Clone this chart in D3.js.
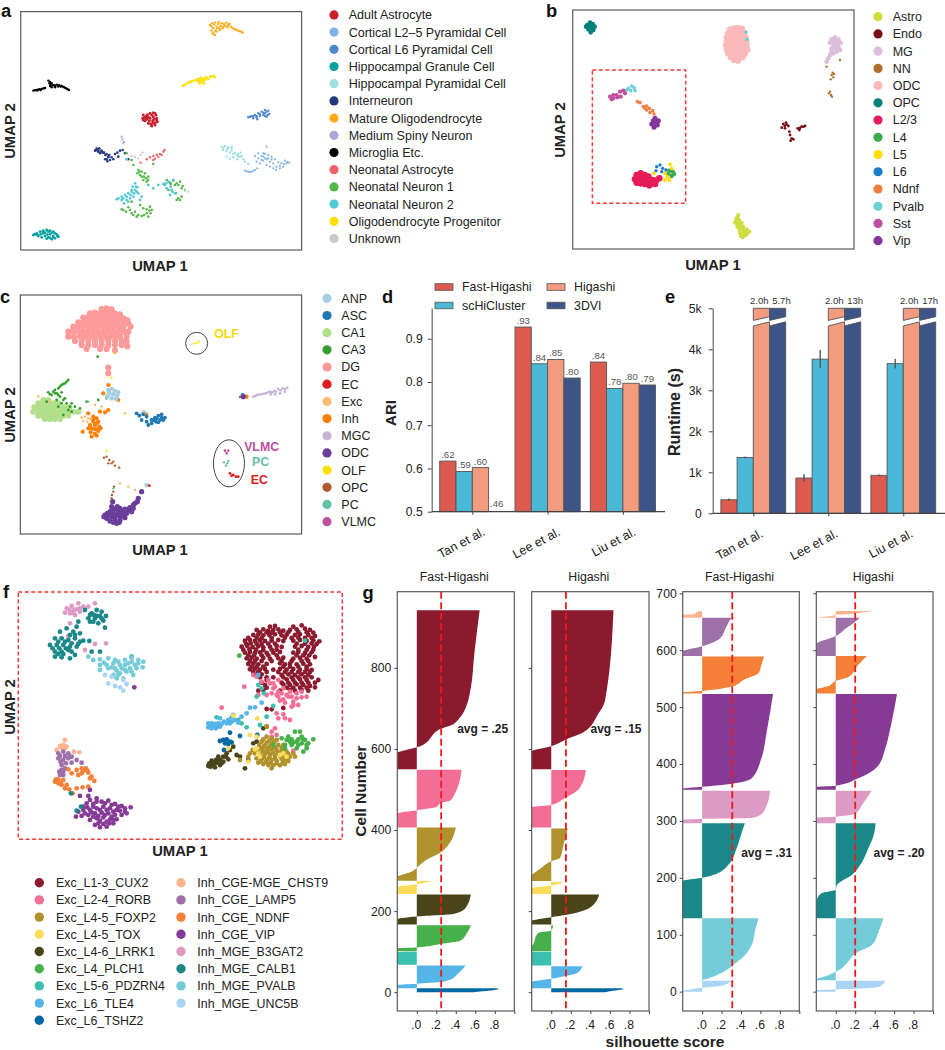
<!DOCTYPE html>
<html><head><meta charset="utf-8">
<script src="https://cdn.jsdelivr.net/npm/d3@7"></script>
<style>html,body{margin:0;padding:0;background:#fff}svg{display:block}text{font-family:"Liberation Sans",Arial,sans-serif;fill:#222}</style>
</head><body><svg id="c" width="945" height="1050"></svg>
<script>
// ---------- panel a: UMAP values (flat x,y lists)
const aAdultAstro=[430,345,440,348,450,340,460,338,468,345,470,355,472,365,465,375,455,378,445,370,435,362,428,355,450,355,458,362,448,362,438,355,460,350,465,368,434,352,442,344,455,345,465,340,462,358,470,360,452,372,458,370,440,358,445,352,430,360];
const aL25=[735,512,745,515,755,515,765,510,772,505,760,512,780,490,790,482,800,478,810,485,820,490,830,500,840,505,850,500,860,490,868,488,855,482,845,490,835,487,825,478,815,470,805,465,795,462,785,468,775,475,765,468,775,460,790,460,800,440,800,495,810,500,820,505,770,485,795,475,785,480,828,510,740,514,750,516,852,492,862,486,840,497,790,470,805,475,815,478];
const aL6=[745,352,755,349,765,345,775,340,785,335,795,330,805,332,808,342,800,350,790,345,780,348,770,352,760,355,772,358,795,340,750,350,760,348,770,348,780,343,790,338,800,335,803,345,795,348];
const aGranule=[100,705,110,700,120,695,130,692,140,690,150,692,160,695,170,703,175,710,165,715,155,718,145,712,135,708,125,712,115,708,130,700,150,703,160,708,105,703,112,705,122,703,128,695,135,698,145,695,155,698,165,700,172,708,150,714,140,716,160,712,142,704];
const aHipPyr=[665,440,675,438,685,442,695,445,668,450,680,452,690,458,700,462,710,465,720,470,730,478,722,458,715,462,680,470,690,476,700,472,712,478,725,468,735,485,745,492,695,440,670,445,683,447,695,452,705,458,715,470];
const aInter=[285,452,290,446,298,445,305,452,312,458,320,462,328,465,335,472,330,480,322,484,315,478,300,460,325,472,345,462,352,458,360,452,368,450,375,460,385,478,340,478,355,470,294,455,288,450,295,450,302,455,308,458,316,465,324,470,320,478];
const aMature=[630,75,636,70,645,68,655,72,662,78,650,80,640,85,634,92,640,98,650,95,660,90,668,85,672,72,680,68,688,72,692,80,682,82,700,86,710,90,720,94,728,98,645,105,638,102,665,70,675,78,658,84,643,74,652,86,646,92,656,66,684,75,695,82,705,88,715,92,725,96,670,80,635,80];
const aMSN=[365,410,368,418,372,426,370,430];
const aMicro=[100,272,108,270,118,268,128,266,135,264,145,242,150,246,155,250,150,258,155,262,162,256,170,254,178,256,185,258,192,262,200,266,207,270,165,262,175,260,112,272,122,270,104,271,114,269,124,267,132,265,148,250,158,256,166,258,174,258,182,260,188,260,196,264,203,268,152,254];
const aNeoAstro=[440,478,450,472,460,468,470,464,480,462,490,455,494,450,465,476,475,470,485,465,422,488,460,480];
const aNN1=[415,510,425,515,435,520,445,530,440,545,430,540,420,525,412,520,395,480,400,495,380,460,460,492,500,540,510,548,525,555,540,545,548,558,555,570,535,595,530,600,545,590,520,542,505,570,528,580,370,630,385,622,395,640,410,650,425,648,440,640,455,630,450,620,365,628,405,635,445,650,430,625,420,615,395,605,418,515,425,530,432,530,438,535,444,540,378,635,390,630,400,645,415,645,432,645,448,632,440,628,452,640,512,552,530,550,535,555,545,565,540,600];
const aNN2=[350,598,365,590,375,585,385,580,395,575,405,570,412,562,405,550,415,580,400,590,390,595,380,600,372,610,398,560,420,600,425,590,475,555,490,552,505,545,520,540,500,565,515,570,525,580,510,585,445,555,460,565,380,478,355,595,370,595,380,590,392,585,402,580,408,560,410,575,395,570,385,605,365,600,495,555,512,560,518,575,498,550];
const aOligoP=[548,258,555,254,562,250,570,246,578,243,590,240,596,236,602,234,610,236,615,240,600,242,605,248,612,250,598,250,620,232,630,230,640,228,645,232,625,238,552,256,566,248,574,245,584,241,606,240,594,243,608,244,616,234,635,229];
const aUnknown=[395,468,405,470,415,475,422,465,428,458,565,575,555,572];
const aColors=["#c9202c","#7fb2e5","#4f86cc","#00a0a0","#a0dfe0","#26397f","#ffab19","#a9a9d6","#000000","#f0626a","#55b949","#55c8d8","#ffdf00","#c9c9c9"];
const aNames=["Adult Astrocyte","Cortical L2–5 Pyramidal Cell","Cortical L6 Pyramidal Cell","Hippocampal Granule Cell","Hippocampal Pyramidal Cell","Interneuron","Mature Oligodendrocyte","Medium Spiny Neuron","Microglia Etc.","Neonatal Astrocyte","Neonatal Neuron 1","Neonatal Neuron 2","Oligodendrocyte Progenitor","Unknown"];

// ---------- panel b
const bAstro=[625,645,620,655,615,668,628,660,632,675,622,680,640,680,650,688,658,695,648,705,638,712,630,700,640,695,628,690,623,650,618,662,625,670,635,668,630,682,638,688,645,695,652,700,642,705,632,708,622,672,635,678];
const bEndo=[760,372,768,368,775,378,765,385,755,383,803,385,815,380,825,378,808,390,780,405,785,415,782,422,790,418,778,395,764,378,770,374,810,384,820,380];
const bMG=[905,118,915,112,925,118,932,128,925,138,912,135,900,128,920,128,930,150,920,155,910,160,900,165,895,175,890,185,905,155,910,120,918,122,926,126,908,128,915,145,905,145,925,145];
const bNN=[890,200,930,180,905,225,910,232,902,238,912,222,908,218,900,275,903,285,906,290,897,280];
const bODC=[600,88,612,85,624,84,636,86,594,100,606,98,618,97,630,98,642,100,590,112,602,110,614,112,626,110,638,112,648,114,590,124,602,122,614,124,626,122,638,124,650,126,588,136,600,134,612,136,624,134,636,136,650,138,590,148,602,146,614,148,626,146,638,148,652,150,594,160,606,158,618,160,630,158,644,162,602,172,614,172,626,170,638,172,612,180,624,182];
const bOPC=[172,75,180,68,188,72,194,80,190,90,182,97,175,88,168,80,182,80,187,84,176,80];
const bL23=[320,525,332,520,344,525,355,530,367,540,378,542,315,538,328,535,340,538,352,540,364,548,375,552,320,548,332,550,345,552,358,556,388,535];
const bL4=[418,512,428,515,432,522,425,528,415,522];
const bL5=[420,493,425,505,405,520,412,530,405,540,418,540,372,520];
const bL6=[380,500,390,495,398,505,408,510,378,512,395,515];
const bNdnf=[340,320,350,318,358,325,368,332,372,342,360,338,350,330,345,325,322,305,330,308];
const bPvalb=[295,265,305,258,312,263,315,272,302,272,290,270,648,96,650,118];
const bSst=[240,290,250,285,245,298,260,285,270,275,280,272,285,280,272,290,262,292,250,295];
const bVip=[375,355,385,362,382,375,372,382,365,372,370,362,378,368];
const bColors=["#cfdc3c","#7a0c17","#dcbedc","#b06e2a","#fbb9b9","#05807c","#e51e58","#3cab4a","#ffde00","#1a7cc8","#f47c3c","#6dcfd6","#c0509f","#84359a"];
const bNames=["Astro","Endo","MG","NN","ODC","OPC","L2/3","L4","L5","L6","Ndnf","Pvalb","Sst","Vip"];

// ---------- panel c
const cANP=[325,315,335,312,345,318,355,322,328,325,340,328,352,332,322,335,335,340,348,342,432,382,440,600];
const cASC=[425,405,440,410,455,405,465,398,475,392,485,388,495,398,480,405,468,410,455,415,440,395,430,388,445,420,418,392,410,385,470,400,485,398,728,330,460,405,475,412,490,405];
const cCA1=[130,345,145,345,115,355,130,355,145,355,160,355,175,355,103,367,118,367,133,367,148,367,163,367,178,367,193,367,208,367,100,380,115,380,130,380,145,380,160,380,175,380,190,380,205,380,220,380,235,380,115,392,130,392,145,392,160,392,175,392,190,392,205,392,135,402,150,402,165,402,180,402];
const cCA3=[205,285,195,295,185,300,175,310,160,320,145,322,170,325,185,322,155,330,180,335,195,340,170,345,200,355,215,355,225,365,185,355,205,375,190,390,240,370,215,380,175,365,140,350,165,315,150,328,320,340,293,215,295,345,200,290,190,297,180,305,165,325,175,330,190,345,210,365,260,350];
const cDG=[305,72,320,70,335,73,270,85,285,83,300,85,315,84,330,85,345,86,360,88,250,98,265,97,280,98,295,97,310,98,325,98,340,97,355,98,370,100,382,105,235,112,250,112,265,111,280,112,295,112,310,111,325,112,340,112,355,111,370,112,385,115,220,125,235,125,250,124,265,125,280,125,295,124,310,125,325,125,340,124,355,125,370,125,392,125,205,140,220,140,235,139,250,140,265,140,280,139,295,140,310,140,325,139,340,140,355,140,370,140,385,140,205,155,222,155,240,154,255,155,270,155,285,154,300,155,315,155,330,154,345,155,360,155,380,155,225,168,245,168,265,167,285,168,305,168,325,167,345,168,365,168,380,170,245,180,265,180,285,180,305,180,325,180,345,180,365,180,382,184,260,192,300,192,320,192,345,196,325,248,325,265];
const cEC=[690,565,700,570,708,575,695,572,715,575,448,602];
const cExc=[245,398,255,395,265,400,250,408,262,410,272,402,345,340,425,385,115,335,345,205,385,605,330,300,405,615,150,350,360,595,375,385,320,380,305,365,285,360];
const cInh=[280,395,290,400,295,410,280,410,270,420,285,420,298,425,265,430,280,432,295,438,272,442,285,446,275,455,290,452,302,430,248,440,300,380,315,382,325,375,265,385,438,388,325,300,280,405,290,415,275,430,288,432,355,345,310,325,740,335];
const cMGC=[760,335,772,330,785,328,798,325,810,320,822,318,835,312,848,310,862,308,855,320,840,325,825,328,812,328,766,333,778,329,792,326,804,322,816,322,828,320,842,316,855,313];
const cODC=[425,620,415,640,405,655,315,690,330,680,345,672,360,670,375,672,390,668,400,660,412,650,320,700,335,695,350,690,365,685,380,685,395,680,330,708,345,705,360,705,375,698,350,715,338,650,335,665,325,690,340,685,355,680,370,692,385,672,730,335,322,685,338,675,352,665,368,678,345,695,360,695,372,690,388,675,400,670,340,712,358,712,312,695];
const cOLF=[582,176,590,174,597,170,320,498,335,278];
const cOPC=[320,515,328,525,335,535,345,542,325,535,340,530,358,548,312,518,335,640,340,620,342,605,336,630,720,336];
const cPC=[672,532,682,535,678,542,685,528,340,610,265,350];
const cVLMC=[675,497,685,497,680,505];
const cColors=["#a6cee3","#1f78b4","#b2df8a","#33a02c","#fb9a99","#e31a1c","#fdbf6f","#ff7f00","#cab2d6","#6a3d9a","#ffdf00","#b15928","#66c2a5","#c0509f"];
const cNames=["ANP","ASC","CA1","CA3","DG","EC","Exc","Inh","MGC","ODC","OLF","OPC","PC","VLMC"];

// ---------- panel d
const studies=["Tan et al.","Lee et al.","Liu et al."];
const methods=["Fast-Higashi","scHiCluster","Higashi","3DVI"];
const methodColors=["#dc5a50","#4cb8d8","#f39b7f","#3c5488"];
const ariFast=[0.617,0.927,0.846];
const ariScHi=[0.593,0.842,0.785];
const ariHigashi=[0.602,0.852,0.797];
const ari3DVI=[0.46,0.809,0.793];
const ariFastLabels=[".62",".93",".84"];
const ariScHiLabels=[".59",".84",".78"];
const ariHigashiLabels=[".60",".85",".80"];
const ari3DVILabels=[".46",".80",".79"];

// ---------- panel e
const runFast=[330,860,925];
const runFastErr=[30,90,20];
const runScHi=[1360,3760,3650];
const runScHiErr=[25,220,120];
const runHigashiHours=["2.0h","2.0h","2.0h"];
const run3DVIHours=["5.7h","13h","17h"];
const breakLow=[4570,4670];
const breakHigh=[4705,4795];

// ---------- panel f
const fCUX2=[810,140,825,138,880,140,905,136,770,150,790,148,805,152,820,150,835,148,850,152,870,150,890,148,915,146,930,150,760,165,775,163,790,166,808,165,825,163,845,166,860,164,885,165,900,163,925,165,945,168,735,182,750,180,765,183,780,181,795,183,815,182,835,180,850,183,880,182,900,180,920,183,940,181,958,184,725,200,742,198,758,201,775,199,790,202,810,200,830,198,845,201,885,200,905,198,925,201,942,200,735,218,750,216,765,219,780,217,800,219,820,218,840,216,880,218,895,216,915,219,935,217,740,235,755,233,770,236,790,234,810,236,835,235,850,233,880,236,900,234,920,236,945,231,745,252,760,250,775,253,800,252,840,250,855,253,870,251,890,253,910,251,930,253,750,268,765,266,780,269,795,267,820,269,840,267,860,269,880,267,900,269,920,267,935,270,770,285,785,283,845,285,865,283,885,285,905,283,925,285,800,300,860,298,880,300,900,298,920,300,955,300,795,315,850,313,870,315,890,313,910,315,930,318,775,332,790,330,840,332,870,330,885,332,905,330,925,332,945,322,800,387,815,388,850,384,
780,157,800,157,815,158,840,157,865,157,895,156,920,157,940,158,745,174,770,173,785,174,815,174,855,173,875,174,895,173,915,174,935,174,738,191,752,190,770,191,785,192,805,191,825,191,890,191,915,191,935,190,950,192,730,209,748,208,768,209,790,210,815,209,830,209,895,209,920,210,940,209,745,226,762,226,785,226,805,226,830,226,890,226,910,226,928,226,750,243,765,243,785,243,815,243,845,243,875,243,905,243,925,243,755,260,770,260,790,260,850,260,870,260,895,260,920,260,760,276,775,276,800,276,835,276,855,276,875,276,895,276,915,276,930,276,780,292,800,292,820,292,850,292,875,292,895,292,915,292,935,292,785,308,845,308,865,308,885,308,905,308,925,308,945,308,800,323,860,323,880,323,900,323,920,323];
const fRORB=[770,290,785,305,805,300,820,310,835,300,820,325,835,335,850,325,870,335,890,340,905,335,920,350,835,350,850,358,865,350,880,365,895,375,830,345,815,340,760,285,733,320,665,383,830,400,850,403,835,415,855,415,870,420,825,445,815,455,830,465,815,470,880,512,775,345,800,345,845,340,860,345,875,350,890,355,905,352,840,362,855,368,875,380,880,375,825,320,810,310];
const fFOXP2=[800,470,815,475,830,480,785,485,800,488,815,492,835,495,850,495,770,505,785,505,800,506,815,508,830,510,845,512,860,515,880,520,750,520,765,520,780,522,795,522,810,524,825,526,840,528,855,530,870,530,885,530,770,535,785,538,800,540,815,540,830,542,850,543,865,543,775,548,790,552,805,555,820,556,840,556,855,552,815,565,745,530,720,540,800,440,790,478,808,482,822,485,778,495,793,497,808,500,825,502,845,503,758,510,775,514,790,514,805,516,820,518,835,518,850,522,865,522,792,530,808,532,825,534,845,536,860,537,782,544,798,546,812,548,830,550,848,549];
const fTOX=[700,407,772,415,750,465,770,470,685,505,765,508,775,520,850,520,860,530,745,545,770,505,780,530,840,525];
const fLRRK1=[628,550,640,555,650,548,660,540,670,530,680,520,690,510,632,560,645,562,660,555,670,545,685,538,710,525,720,530,700,500,735,565,745,540,760,490,770,485,800,440,790,445,635,542,648,540,665,550,678,530,655,530,640,548,625,558];
const fPLCH1=[845,475,860,480,875,478,890,485,885,455,900,455,905,470,915,480,925,490,940,478,905,490,895,495,875,495,855,495,920,505,910,515,890,505,855,505,718,227,820,495,880,488,895,478,910,478,920,495,870,485,865,470];
const fPDZRN4=[650,412,715,420,725,430,740,442,775,315,785,325,770,350,820,378,800,410,780,435,915,182,792,340,858,515];
const fTLE4=[625,430,635,430,645,432,655,430,625,442,635,445,648,445,660,440,672,425,685,420,695,412,705,420,715,428,690,430,700,405,725,410,740,400,750,383,660,415,765,382,785,368,775,285,630,436,640,438,652,438,665,432,680,430,695,425];
const fTSHZ2=[670,480,680,478,690,485,675,490,685,492,695,487,690,458,660,483,672,510,720,468,772,465];
const fCHST9=[195,480,180,498,190,495,200,500,170,510,222,515,238,517,185,505,195,505];
const fLAMP5=[175,520,190,515,205,520,215,530,230,540,245,548,175,535,190,540,205,535,215,548,185,555,185,570,195,565,180,585,190,585,210,530,180,528,195,528,182,545,198,550,178,575,190,575];
const fNDNF=[165,605,175,598,190,600,200,615,185,615,175,610,208,628,195,625,205,568,215,580,230,570,245,565,258,565,265,578,275,590,235,585,245,580,270,595,283,603,265,620,248,622,230,625,218,640,168,598,182,608,250,572,262,572];
const fVIP=[240,648,265,648,290,655,260,670,280,672,305,665,325,662,345,672,365,678,392,682,235,695,250,690,270,690,290,685,310,680,330,685,350,690,375,695,228,710,245,708,265,705,285,700,305,698,325,700,345,705,365,705,380,700,270,720,290,715,310,712,330,718,350,718,285,735,300,742,320,740,340,730,403,322,270,630,270,660,290,665,315,670,335,675,355,680,375,685,250,680,262,682,280,680,300,690,320,690,340,695,360,692,255,700,275,697,295,708,315,705,335,710,280,710,300,722,320,725,340,720,295,730,310,732,328,730];
const fB3GAT2=[200,85,215,78,235,70,250,80,195,98,210,100,225,105,240,95,230,88,285,70,265,80,210,130,205,168,255,210,285,192,318,190,208,90,222,90,240,85,218,98];
const fCALB1=[265,115,275,100,290,90,305,95,318,108,310,122,295,130,280,125,290,108,270,125,315,143,235,125,230,140,200,145,180,155,220,155,240,160,165,175,185,175,205,180,225,175,240,185,150,195,170,195,190,195,210,200,230,200,165,215,185,215,205,210,225,225,165,230,185,232,210,235,250,182,268,183,300,215,275,215,270,105,395,230,230,692,243,680,213,640,255,90,282,105,300,108,305,115,285,115,210,165,225,165,175,185,195,185,215,190,235,192,158,205,178,205,198,205,215,215,175,222,190,222];
const fPVALB=[265,230,280,240,300,238,325,235,345,240,375,240,395,232,415,240,430,245,300,255,320,255,340,250,360,255,385,250,405,255,428,262,300,270,325,265,345,265,365,265,390,265,340,285,360,280,380,275,400,285,350,295,370,295,355,245,375,255,395,245,415,250,335,262,350,272,375,270,395,275,355,285,410,265,312,248];
const fUNC5B=[315,285,335,290,370,300,325,310,345,318,360,322,370,332,380,312];
const fColors=["#8b1a2f","#f46d95","#b0922c","#fbdc5a","#49441a","#46b04a","#3bbfae","#55b5e8","#0068a5","#fdb48e","#9e70a8","#f68038","#863a96","#dd9ac4","#1a8889","#74ccd8","#aad4f4"];
const fNames=["Exc_L1-3_CUX2","Exc_L2-4_RORB","Exc_L4-5_FOXP2","Exc_L4-5_TOX","Exc_L4-6_LRRK1","Exc_L4_PLCH1","Exc_L5-6_PDZRN4","Exc_L6_TLE4","Exc_L6_TSHZ2","Inh_CGE-MGE_CHST9","Inh_CGE_LAMP5","Inh_CGE_NDNF","Inh_CGE_VIP","Inh_MGE_B3GAT2","Inh_MGE_CALB1","Inh_MGE_PVALB","Inh_MGE_UNC5B"];

// ---------- panel g: silhouette profiles as [cell number, score]
const g1CUX2=[[550,-.3],[591,-.2],[597,-.12],[604,0],[616,.1],[630,.15],[649,.24],[657,.34],[678,.445],[707,.51],[752,.555],[835,.59],[942,.645]];
const g1RORB=[[406,-.3],[441,-.2],[449,0],[457,.2],[467,.245],[472,.34],[488,.385],[549,.46]];
const g1FOXP2=[[275,-.3],[286,-.2],[298,-.05],[307,0],[327,.1],[344,.24],[364,.325],[406,.4]];
const g1TOX=[[242,-.3],[260,-.2],[266,0],[270,.085],[274,.19]];
const g1LRRK1=[[167,-.3],[181,-.2],[187,0],[193,.375],[208,.5],[241,.555]];
const g1PLCH1=[[101,-.3],[109,-.2],[110.5,0],[119,.24],[127,.445],[146,.515],[165,.555]];
const g1PDZRN4=[[68,-.3],[99,-.25],[99.5,0],[100,.02]];
const g1TLE4=[[10,-.3],[18,-.2],[21,0],[25,.24],[30.5,.34],[43,.41],[66,.5]];
const g1TSHZ2=[[0,.58],[4,.75],[8,.84],[10,.82]];
const g2CUX2=[[550,-.3],[595,-.2],[607,0],[624,.157],[641,.33],[686,.48],[719,.55],[942,.637]];
const g2RORB=[[406,-.3],[457,-.2],[462,0],[476,.12],[505,.295],[548,.355]];
const g2FOXP2=[[274,-.3],[290,-.2],[307,-.1],[323,0],[331,.09],[364,.125],[404,.17]];
const g2TOX=[[242,-.3],[257,-.2],[263,0],[272,.125]];
const g2LRRK1=[[167,-.3],[177,-.2],[185,0],[191,.157],[212,.415],[241,.49]];
const g2PLCH1=[[101,-.3],[113,-.2],[146,-.135],[152,0],[165,.02]];
const g2PDZRN4=[[66,-.3],[99,-.25],[99.5,0]];
const g2TLE4=[[10,-.3],[26,-.2],[33,0],[39,.12],[47,.26],[64,.32]];
const g2TSHZ2=[[0,.55],[4,.65],[8,.74],[10,.72]];
const g3CHST9=[[657,-.3],[662,-.2],[663,-.09],[668.5,-.04],[669,0]];
const g3LAMP5=[[590,-.3],[599,-.2],[607,0],[621,.185],[641,.25],[656,.305],[657,.355]];
const g3NDNF=[[524,-.3],[526,-.2],[528.5,0],[536,.305],[549,.44],[559.5,.58],[574,.61],[589,.637]];
const g3VIP=[[355,-.3],[357,-.2],[360,0],[364.5,.27],[375,.51],[410,.61],[457,.665],[523,.73]];
const g3B3GAT2=[[296,-.3],[302,-.2],[303.5,0],[305,.51],[312,.61],[328,.665],[353,.7]];
const g3CALB1=[[129,-.3],[194.5,-.2],[200,0],[206,.13],[223,.27],[252,.355],[281,.41],[296,.44]];
const g3PVALB=[[19,-.04],[20.5,0],[32,.185],[47,.32],[64,.44],[82,.51],[111,.55],[129,.58]];
const g3UNC5B=[[0,-.3],[2,-.2],[7,0],[10.5,.2],[19,.305]];
const g4CHST9=[[657,-.2],[660,-.05],[662,0],[663,.1],[666,.25],[669,.39]];
const g4LAMP5=[[590,-.3],[612,-.2],[625,0],[639,.11],[650,.2],[657,.25]];
const g4NDNF=[[524,-.3],[532,-.2],[536,-.09],[546,0],[553,.13],[574,.23],[590,.32]];
const g4VIP=[[355,-.3],[360,-.2],[362,0],[375,.23],[398,.44],[428,.51],[474,.575],[523,.63]];
const g4B3GAT2=[[296,-.3],[306,-.2],[307.5,0],[313,.2],[328,.27],[353,.37]];
const g4CALB1=[[129,-.3],[161,-.2],[173,-.145],[179,0],[187,.01],[205,.165],[228,.27],[252,.335],[275,.39],[296,.41]];
const g4PVALB=[[20,-.3],[23,-.2],[35,0],[53,.13],[67,.2],[82,.37],[105,.44],[129,.49]];
const g4UNC5B=[[0,-.3],[3,-.2],[4,0],[5,.2],[9,.455],[19,.51]];
const avgScores=[.25,.15,.31,.20];
const avgLabels=["avg = .25","avg = .15","avg = .31","avg = .20"];

// ---------- drawing helpers
const svg=d3.select("#c");
const frameColor="#5a5a5a";
svg.append("defs").append("filter").attr("id","soft").append("feGaussianBlur").attr("stdDeviation",.35);
const xyPairs=a=>d3.range(0,a.length,2).map(i=>[a[i],a[i+1]]);
function label(x,y,t,o={}){
  const s=svg.append("text").attr("x",x).attr("y",y).text(t)
    .attr("font-size",o.size||12.5).attr("text-anchor",o.anchor||"start")
    .attr("font-weight",o.bold?"bold":"normal").style("fill",o.fill||"#222");
  if(o.rot!=null) s.attr("transform",`rotate(${o.rot},${x},${y})`);
  return s;
}
function frame(x0,x1,y0,y1,o={}){
  svg.append("rect").attr("x",x0).attr("y",y0).attr("width",x1-x0).attr("height",y1-y0)
    .attr("fill","none").attr("stroke",o.stroke||frameColor).attr("stroke-width",o.w||1.2)
    .attr("stroke-dasharray",o.dash||null);
}
function scatter(x,y,pts,color,r){
  svg.append("g").attr("filter","url(#soft)").selectAll("circle").data(xyPairs(pts)).join("circle")
    .attr("cx",d=>x(d[0])).attr("cy",d=>y(d[1])).attr("r",r).attr("fill",color);
}
function legend(names,colors,dx,tx,y0,step,r=4.6,size=12.5){
  names.forEach((n,i)=>{
    svg.append("circle").attr("cx",dx).attr("cy",y0+i*step).attr("r",r).attr("fill",colors[i]);
    label(tx,y0+i*step+4.4,n,{size});
  });
}
function panelLetter(x,y,t){label(x,y,t,{size:18.3,bold:true,fill:"#111"});}
function umapLabels(cx,y,lx,cy){
  label(cx,y,"UMAP 1",{size:14.8,bold:true,anchor:"middle"});
  label(lx,cy,"UMAP 2",{size:14.8,bold:true,anchor:"middle",rot:-90});
}

// ---------- panel a
{
  const x=d3.scaleLinear([62,905],[20.7,301.6]), y=d3.scaleLinear([750,35],[250,11.6]);
  frame(20.7,301.6,11.6,250);
  const arr=[aAdultAstro,aL25,aL6,aGranule,aHipPyr,aInter,aMature,aMSN,aMicro,aNeoAstro,aNN1,aNN2,aOligoP,aUnknown];
  const rs=[1.5,1.1,1.2,1.4,1.2,1.3,1.2,1.1,1.2,1.2,1.3,1.4,1.3,1.1];
  arr.forEach((a,i)=>scatter(x,y,a,aColors[i],rs[i]));
  panelLetter(1,16.8,"a"); umapLabels(160,271,15,131);
  legend(aNames,aColors,334,348.7,14.9,17.2);
}
// ---------- panel b
{
  const x=d3.scaleLinear([128,972],[572.7,854]), y=d3.scaleLinear([747,30],[249,10]);
  frame(572.7,854,10,249);
  const arr=[bAstro,bEndo,bMG,bNN,bODC,bOPC,bL23,bL4,bL5,bL6,bNdnf,bPvalb,bSst,bVip];
  const rs=[2,1.4,2.4,1.2,3.1,2.3,3.3,2.2,1.9,1.7,1.8,1.8,2.1,2.5];
  arr.forEach((a,i)=>scatter(x,y,a,bColors[i],rs[i]));
  svg.append("rect").attr("x",x(187)).attr("y",y(210)).attr("width",x(467)-x(187)).attr("height",y(610)-y(210))
    .attr("fill","none").attr("stroke","#f03c3c").attr("stroke-width",1.5).attr("stroke-dasharray","4,2.5");
  panelLetter(546,16.8,"b"); umapLabels(713,270,565,130);
  legend(bNames,bColors,878,892.7,16.7,17.23);
}
// ---------- panel c
{
  const x=d3.scaleLinear([61,905],[20.3,301.6]), y=d3.scaleLinear([747,30],[534,295]);
  frame(20.3,301.6,295,534);
  const arr=[cDG,cCA1,cCA3,cExc,cInh,cANP,cASC,cMGC,cOPC,cODC,cOLF,cPC,cVLMC,cEC];
  const cols=[4,2,3,6,7,0,1,8,11,9,10,12,13,5];
  const rs=[3.1,3,1.4,1.3,2.1,2.3,1.9,1.4,1.2,2.6,1.1,1.2,1.3,1.4];
  arr.forEach((a,i)=>scatter(x,y,a,cColors[cols[i]],rs[i]));
  svg.append("ellipse").attr("cx",x(590)).attr("cy",y(175)).attr("rx",11).attr("ry",11).attr("fill","none").attr("stroke","#444").attr("stroke-width",1);
  svg.append("ellipse").attr("cx",x(687)).attr("cy",y(535)).attr("rx",15.5).attr("ry",23.5).attr("fill","none").attr("stroke","#444").attr("stroke-width",1);
  label(x(680),y(145)+4.5,"OLF",{size:12.3,bold:true,anchor:"middle",fill:"#f5d800"});
  label(x(785),y(483)+4.5,"VLMC",{size:12.3,bold:true,anchor:"middle",fill:"#c0509f"});
  label(x(782),y(530)+4.5,"PC",{size:12.3,bold:true,anchor:"middle",fill:"#66c2a5"});
  label(x(778),y(582)+4.5,"EC",{size:12.3,bold:true,anchor:"middle",fill:"#e31a1c"});
  panelLetter(0,303,"c"); umapLabels(160,555,15,415);
  legend(cNames,cColors,327,341.3,298.3,17.18);
}
// ---------- bar panel axes
function barAxes(x,y,x0,x1,yTicks,fmt,pad,off){
  const gy=svg.append("g").attr("transform",`translate(${x0},0)`)
    .call(d3.axisLeft(y).tickValues(yTicks).tickFormat(fmt).tickSize(4).tickPadding(pad).tickSizeOuter(0));
  gy.select(".domain").attr("stroke","#666").attr("stroke-width",1.2);
  gy.selectAll(".tick line").attr("stroke","#444");
  gy.selectAll("text").attr("font-size",12.2).style("fill","#222");
  const gx=svg.append("g").attr("transform",`translate(0,${y.range()[0]})`)
    .call(d3.axisBottom(x).tickSize(3).tickSizeOuter(0));
  gx.select(".domain").remove();
  gx.append("line").attr("x1",x0).attr("x2",x1).attr("stroke","#444").attr("stroke-width",1.2);
  gx.selectAll(".tick line").attr("stroke","#444");
  gx.selectAll("text").attr("font-size",12.6).style("fill","#222").attr("text-anchor","end")
    .attr("y",0).attr("dy",".35em").attr("transform",`translate(${off},19) rotate(-28)`);
}
// ---------- panel d
{
  const x=d3.scalePoint(studies,[472.3,622.9]), y=d3.scaleLinear([.5,.971],[511.7,308]);
  const inner=d3.scaleBand(methods,[-32.6,32.6]);
  const vals=[ariFast,ariScHi,ariHigashi,ari3DVI], labs=[ariFastLabels,ariScHiLabels,ariHigashiLabels,ari3DVILabels];
  methods.forEach((m,j)=>{
    studies.forEach((s,i)=>{
      const v=vals[j][i], bx=x(s)+inner(m);
      if(v>=.5) svg.append("rect").attr("x",bx).attr("y",y(v)).attr("width",inner.bandwidth()).attr("height",y(.5)-y(v))
        .attr("fill",methodColors[j]).attr("stroke","#555").attr("stroke-width",.9);
      label(bx+inner.bandwidth()/2,(v>=.5?y(v):y(.5)-2)-3,labs[j][i],{size:9.6,anchor:"middle",fill:"#555"});
    });
  });
  barAxes(x,y,431.7,665,[.5,.6,.7,.8,.9],d3.format(".1f"),5,11);
  label(396,413,"ARI",{size:15,bold:true,anchor:"middle",rot:-90});
  panelLetter(382,303,"d");
  const lx=[435,547], ly=[287,305.5];
  methods.forEach((m,j)=>{
    const [c,r]=[[0,0],[0,1],[1,0],[1,1]][j];
    svg.append("rect").attr("x",lx[c]).attr("y",ly[r]-3.3).attr("width",18).attr("height",6.6)
      .attr("fill",methodColors[j]).attr("stroke","#555").attr("stroke-width",.8);
    label(lx[c]+27,ly[r]+4.4,m,{size:12.4});
  });
}
// ---------- panel e
{
  const x=d3.scalePoint(studies,[753.3,903.3]), y=d3.scaleLinear([0,5000],[513.3,308.3]);
  const inner=d3.scaleBand(methods,[-32.4,32.4]);
  const w=inner.bandwidth();
  const solid=[[runFast,runFastErr,0],[runScHi,runScHiErr,1]];
  solid.forEach(([v,e,j])=>studies.forEach((s,i)=>{
    const bx=x(s)+inner(methods[j]);
    svg.append("rect").attr("x",bx).attr("y",y(v[i])).attr("width",w).attr("height",y(0)-y(v[i]))
      .attr("fill",methodColors[j]).attr("stroke","#555").attr("stroke-width",.9);
    svg.append("line").attr("x1",bx+w/2).attr("x2",bx+w/2).attr("y1",y(v[i]-e[i])).attr("y2",y(v[i]+e[i]))
      .attr("stroke","#555").attr("stroke-width",1.4);
  }));
  const line=d3.line().x(d=>d[0]).y(d=>y(d[1]));
  [[2,runHigashiHours],[3,run3DVIHours]].forEach(([j,hrs])=>studies.forEach((s,i)=>{
    const a=x(s)+inner(methods[j]), b=a+w;
    svg.append("path").attr("d",line([[a,0],[a,breakLow[0]],[b,breakLow[1]],[b,0]])+"Z")
      .attr("fill",methodColors[j]).attr("stroke","#555").attr("stroke-width",.9);
    svg.append("path").attr("d",line([[a,breakHigh[0]],[a,5000],[b,5000],[b,breakHigh[1]]])+"Z")
      .attr("fill",methodColors[j]).attr("stroke","#555").attr("stroke-width",.9);
    if(j==2) label(b-1,303.5,hrs[i],{size:9.5,anchor:"end",fill:"#333"});
    else label(a+2.7,303.5,hrs[i],{size:9.5,anchor:"start",fill:"#333"});
  }));
  barAxes(x,y,712.7,945,[0,1000,2000,3000,4000,5000],d=>d?d/1000+"k":"0",7,8);
  label(680,412,"Runtime (s)",{size:16,bold:true,anchor:"middle",rot:-90});
  panelLetter(665,303,"e");
}
// ---------- panel f
{
  const x=d3.scaleLinear([55,1027],[18.3,342.3]), y=d3.scaleLinear([778,36],[839.3,592]);
  frame(18.3,342.3,592,839.3,{stroke:"#f03c3c",w:1.5,dash:"4,2.5"});
  const arr=[fCUX2,fRORB,fFOXP2,fTOX,fLRRK1,fPLCH1,fPDZRN4,fTLE4,fTSHZ2,fCHST9,fLAMP5,fNDNF,fVIP,fB3GAT2,fCALB1,fPVALB,fUNC5B];
  [0,1,6,7,8,4,2,3,5,9,10,11,12,13,14,15,16].forEach(i=>scatter(x,y,arr[i],fColors[i],2.4));
  panelLetter(3,598,"f"); umapLabels(180,856,15,707);
  legend(fNames.slice(0,9),fColors.slice(0,9),39.3,56,882.7,17.2,4.7,12.4);
  legend(fNames.slice(9),fColors.slice(9),181,197.3,882.7,17.2,4.7,12.4);
}
// ---------- panel g
{
  const yTop=591.7,yBot=1011;
  const yA=d3.scaleLinear([-46.4,988],[yBot,yTop]);
  const yB=d3.scaleLinear([-34,702.8],[yBot,yTop]);
  const panels=[
    {x0:397.3,x1:514.3,y:yA,title:"Fast-Higashi",ticks:d3.range(0,801,200),lab:true,avg:0,ax:482.7,ay:733,
     ser:[g1CUX2,g1RORB,g1FOXP2,g1TOX,g1LRRK1,g1PLCH1,g1PDZRN4,g1TLE4,g1TSHZ2],col:[0,1,2,3,4,5,6,7,8]},
    {x0:531.7,x1:649,y:yA,title:"Higashi",ticks:d3.range(0,801,200),lab:false,avg:1,ax:616,ay:733,
     ser:[g2CUX2,g2RORB,g2FOXP2,g2TOX,g2LRRK1,g2PLCH1,g2PDZRN4,g2TLE4,g2TSHZ2],col:[0,1,2,3,4,5,6,7,8]},
    {x0:682.7,x1:799.3,y:yB,title:"Fast-Higashi",ticks:d3.range(0,701,100),lab:true,avg:2,ax:766.7,ay:857,
     ser:[g3CHST9,g3LAMP5,g3NDNF,g3VIP,g3B3GAT2,g3CALB1,g3PVALB,g3UNC5B],col:[9,10,11,12,13,14,15,16]},
    {x0:816.3,x1:933,y:yB,title:"Higashi",ticks:d3.range(0,701,100),lab:false,avg:3,ax:899,ay:857,
     ser:[g4CHST9,g4LAMP5,g4NDNF,g4VIP,g4B3GAT2,g4CALB1,g4PVALB,g4UNC5B],col:[9,10,11,12,13,14,15,16]}
  ];
  panels.forEach((p,k)=>{
    const x=d3.scaleLinear([-.2,1],[p.x0,p.x1]);
    const id="clipG"+k;
    svg.append("clipPath").attr("id",id).append("rect").attr("x",p.x0).attr("y",yTop).attr("width",p.x1-p.x0).attr("height",yBot-yTop);
    const area=d3.area().curve(d3.curveMonotoneY).y(d=>p.y(d[0])).x0(x(0)).x1(d=>x(d[1]));
    const g=svg.append("g").attr("clip-path",`url(#${id})`);
    p.ser.forEach((s,i)=>g.append("path").attr("d",area(s)).attr("fill",fColors[p.col[i]]));
    frame(p.x0,p.x1,yTop,yBot);
    const gx=svg.append("g").attr("transform",`translate(0,${yBot})`)
      .call(d3.axisBottom(x).tickValues([0,.2,.4,.6,.8,1]).tickSize(3).tickSizeOuter(0)
        .tickFormat(d=>d==1?"":d3.format(".1f")(d).replace(/^0/,"")));
    gx.select(".domain").remove();
    gx.selectAll(".tick line").attr("stroke","#444");
    gx.selectAll("text").attr("font-size",12.2).style("fill","#222").attr("dy","1em").attr("dx","-1");
    const gy=svg.append("g").attr("transform",`translate(${p.x0},0)`)
      .call(d3.axisLeft(p.y).tickValues(p.ticks).tickSize(3).tickSizeOuter(0).tickFormat(p.lab?d3.format("d"):""));
    gy.select(".domain").remove();
    gy.selectAll(".tick line").attr("stroke","#444");
    gy.selectAll("text").attr("font-size",12.2).style("fill","#222");
    svg.append("line").attr("x1",x(avgScores[p.avg])).attr("x2",x(avgScores[p.avg])).attr("y1",yTop).attr("y2",yBot)
      .attr("stroke","#f01818").attr("stroke-width",1.8).attr("stroke-dasharray","7,3.5");
    label(p.ax,p.ay,avgLabels[p.avg],{size:12,bold:true,anchor:"middle"});
    label((p.x0+p.x1)/2-1.5,581,p.title,{size:12.3,anchor:"middle"});
  });
  panelLetter(362.5,598.5,"g");
  label(366,791,"Cell Number",{size:15.5,bold:true,anchor:"middle",rot:-90});
  label(665,1047,"silhouette score",{size:15.5,bold:true,anchor:"middle"});
}
</script></body></html>
